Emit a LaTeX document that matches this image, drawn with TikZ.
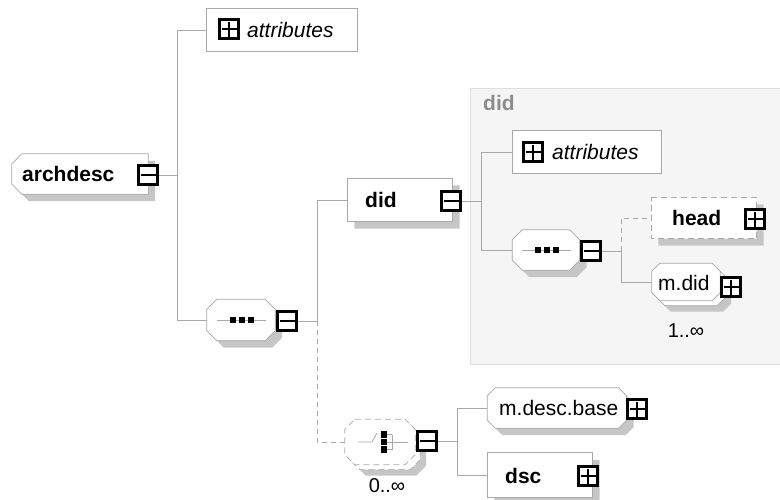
\documentclass[tikz,border=0pt]{standalone}
\usepackage{fontspec}
\setmainfont{Liberation Sans}
\usetikzlibrary{calc}

\definecolor{edge}{HTML}{A8A8A8}
\definecolor{shade}{HTML}{C6C6C6}
\definecolor{panelfill}{HTML}{F5F5F5}
\definecolor{panelline}{HTML}{DEDEDE}
\definecolor{paneltitle}{HTML}{8C8C8C}

% outline with cut corners: #1 node, #2 path options, #3 left cut, #4 right cut
\newcommand\cutbox[4]{%
  \path[#2] ([xshift=#3]#1.north west) -- ([xshift=-#4]#1.north east)
    -- ([yshift=-#4]#1.north east) -- ([yshift=#4]#1.south east)
    -- ([xshift=-#4]#1.south east) -- ([xshift=#3]#1.south west)
    -- ([yshift=#3]#1.south west) -- ([yshift=-#3]#1.north west) -- cycle;}

\newcommand\fsz{\fontsize{21}{25}\selectfont}

\tikzset{
  x=1pt, y=-1pt,
  every node/.style={font=\fsz},
  slot/.style={draw=none, inner sep=0pt, minimum width=#1},
  conn/.style={draw=edge, line width=0.8pt},
  dashconn/.style={draw=edge, line width=0.8pt, dash pattern=on 5pt off 4pt},
  body/.style={draw=edge, line width=0.8pt, fill=white},
  dbody/.style={draw=edge, line width=0.8pt, fill=white, dash pattern=on 6pt off 4pt},
  shadowfill/.style={fill=shade},
  txt/.style={inner sep=0pt, anchor=west},
  count/.style={inner sep=0pt, font=\fontsize{20}{24}\selectfont},
  icon/.style={draw=black, line width=2.9pt, fill=white, minimum size=19pt, inner sep=0pt},
  minus/.style={icon, path picture={
      \draw[line width=1.8pt] ([xshift=2pt]path picture bounding box.west)
        -- ([xshift=-2pt]path picture bounding box.east);}},
  plus/.style={icon, path picture={
      \draw[line width=1.8pt] ([xshift=2pt]path picture bounding box.west)
        -- ([xshift=-2pt]path picture bounding box.east);
      \draw[line width=1.8pt] ([yshift=-2pt]path picture bounding box.north)
        -- ([yshift=2pt]path picture bounding box.south);}},
  seqmark/.pic={
    \draw[conn] (-24,0) -- (25,0);
    \foreach \dx in {-8,1,10}
      \fill ({\dx-3.4},-3.4) rectangle ({\dx+3.4},3.4);},
  choicemark/.pic={
    \draw[conn] (-22,0) -- (-8,0) -- (-3,-9);
    \foreach \dy in {-7.5,0,7.5}{
      \fill (0.5,{\dy-3.3}) rectangle (7,{\dy+3.3});
      \draw[conn] (7,\dy) -- (12,\dy);}
    \draw[conn] (12,-7.5) -- (12,7.5);
    \draw[conn] (12,0) -- (28,0);}
}

\begin{document}
\begin{tikzpicture}
\useasboundingbox (0,0) rectangle (780,499);

% local content panel of the did element
\path[fill=panelfill, draw=panelline, line width=0.8pt] (470,88) rectangle (795,364);
\node[txt, font=\fsz\bfseries, text=paneltitle] (didtitle) at (483,103) {did};

% placement of every element
\node[slot=136pt, minimum height=40pt] (archdesc) at (80,174) {};
\node[slot=150pt, minimum height=42pt] (attrA) at (282,30) {};
\node[slot=68pt, minimum height=41pt] (seqA) at (241,320) {};
\node[slot=105pt, minimum height=43pt] (did) at (400,200) {};
\node[slot=148pt, minimum height=43pt] (attrB) at (587,152) {};
\node[slot=67pt, minimum height=40pt] (seqB) at (546,250) {};
\node[slot=105pt, minimum height=41pt] (head) at (704,218) {};
\node[slot=68pt, minimum height=37pt] (mdid) at (686,282) {};
\node[slot=70pt, minimum height=45pt] (choice) at (380,442) {};
\node[slot=139pt, minimum height=40pt] (mdesc) at (557,408) {};
\node[slot=105pt, minimum height=44pt] (dsc) at (540,475) {};

% drop shadows
\begin{scope}[transform canvas={shift={(7pt,-7pt)}}]
  \cutbox{archdesc}{shadowfill}{10pt}{0pt}
  \cutbox{seqA}{shadowfill}{10pt}{10pt}
  \cutbox{did}{shadowfill}{0pt}{0pt}
  \cutbox{seqB}{shadowfill}{10pt}{10pt}
  \cutbox{head}{shadowfill}{0pt}{0pt}
  \cutbox{mdesc}{shadowfill}{8pt}{8pt}
  \cutbox{dsc}{shadowfill}{0pt}{0pt}
\end{scope}
\begin{scope}[transform canvas={shift={(11pt,-11pt)}}]
  \cutbox{mdid}{shadowfill}{8pt}{8pt}
  \cutbox{choice}{shadowfill}{10pt}{10pt}
\end{scope}

% second copies for repeated particles
\begin{scope}[transform canvas={shift={(5pt,-5pt)}}]
  \cutbox{mdid}{body}{8pt}{8pt}
  \cutbox{choice}{dbody}{10pt}{10pt}
\end{scope}

% element outlines
\cutbox{archdesc}{body}{10pt}{0pt}
\cutbox{attrA}{body}{0pt}{0pt}
\cutbox{seqA}{body}{10pt}{10pt}
\cutbox{did}{body}{0pt}{0pt}
\cutbox{attrB}{body}{0pt}{0pt}
\cutbox{seqB}{body}{10pt}{10pt}
\cutbox{head}{dbody}{0pt}{0pt}
\cutbox{mdid}{body}{8pt}{8pt}
\cutbox{choice}{dbody}{10pt}{10pt}
\cutbox{mdesc}{body}{8pt}{8pt}
\cutbox{dsc}{body}{0pt}{0pt}

% compositor symbols
\pic at (seqA.center) {seqmark};
\pic at (seqB.center) {seqmark};
\pic at (choice.center) {choicemark};

% expand / collapse buttons
\node[minus] (archdesc-m) at (148,175) {};
\node[plus] (attrA-p) at (229,29) {};
\node[minus] (seqA-m) at (287,321) {};
\node[minus] (did-m) at (451,201) {};
\node[plus] (attrB-p) at (533,152) {};
\node[minus] (seqB-m) at (591,251) {};
\node[plus] (head-p) at (755,219) {};
\node[plus] (mdid-p) at (731,287) {};
\node[minus] (choice-m) at (427,441) {};
\node[plus] (mdesc-p) at (637,409) {};
\node[plus] (dsc-p) at (588,476) {};

% labels
\node[txt, font=\fsz\bfseries] (archdesc-t) at (22,174) {archdesc};
\node[txt, font=\fsz\itshape] (attrA-t) at (247,30) {attributes};
\node[txt, font=\fsz\bfseries] (did-t) at (365,200) {did};
\node[txt, font=\fsz\itshape] (attrB-t) at (552,152) {attributes};
\node[txt, font=\fsz\bfseries] (head-t) at (672,218) {head};
\node[txt] (mdid-t) at (658,283) {m.did};
\node[txt] (mdesc-t) at (499,408) {m.desc.base};
\node[txt, font=\fsz\bfseries] (dsc-t) at (505,476) {dsc};
\node[count] (mdid-n) at (686,331) {1..∞};
\node[count] (choice-n) at (387,486) {0..∞};

% connectors
\draw[conn] (archdesc-m.east) -- ++(18,0) coordinate (jA);
\draw[conn] (jA) |- (attrA.west);
\draw[conn] (jA) |- (seqA.west);

\draw[conn] (seqA-m.east) -- ++(19,0) coordinate (jB);
\draw[conn] (jB) |- (did.west);
\draw[dashconn] (jB) |- (choice.west);

\draw[conn] (did-m.east) -- ++(19,0) coordinate (jC);
\draw[conn] (jC) |- (attrB.west);
\draw[conn] (jC) |- (seqB.west);

\draw[conn] (seqB-m.east) -- ++(19,0) coordinate (jD);
\draw[dashconn] (jD) |- (head.west);
\draw[conn] (jD) |- (mdid.west);

\draw[conn] (choice-m.east) -- ++(19,0) coordinate (jE);
\draw[conn] (jE) |- (mdesc.west);
\draw[conn] (jE) |- (dsc.west);
\end{tikzpicture}
\end{document}
